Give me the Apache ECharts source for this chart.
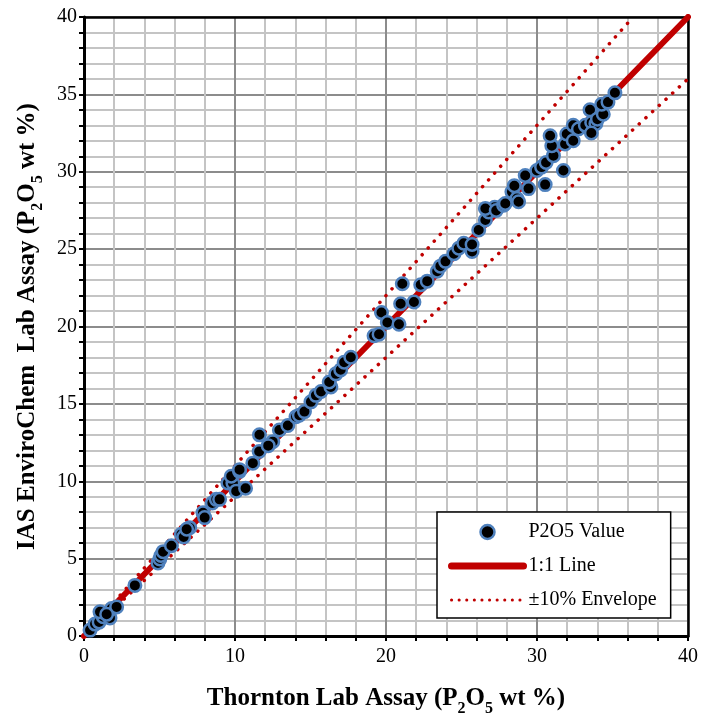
<!DOCTYPE html>
<html><head><meta charset="utf-8">
<script src="https://cdn.jsdelivr.net/npm/echarts@6/dist/echarts.min.js"></script>
<style>html,body{margin:0;padding:0;background:#fff}#c{width:701px;height:722px}</style>
</head><body><div id="c"></div>
<script>
var thorntonX = [0.4,0.73,1.0,1.27,1.06,1.72,1.83,2.16,1.5,3.37,4.9,5.02,5.1,5.24,5.79,6.45,6.6,7.0,6.8,7.88,7.99,8.5,8.76,8.98,9.53,9.86,9.75,10.08,10.3,10.3,10.7,11.18,11.6,11.62,12.5,12.94,12.2,13.5,14.04,14.26,14.6,15.03,15.36,15.7,16.35,16.24,16.68,17.0,17.23,17.67,19.21,19.54,19.7,20.09,20.86,20.97,21.85,21.08,22.3,22.73,23.39,23.6,23.94,24.5,24.82,25.15,25.7,25.7,26.14,26.58,26.8,27.2,26.58,27.3,27.79,27.9,28.34,28.67,28.78,28.5,29.22,29.44,29.99,30.54,30.3,30.6,31.09,30.98,30.87,31.75,31.86,31.97,32.4,32.4,32.74,33.2,33.62,33.51,33.9,33.6,34.0,34.39,34.28,34.7,35.16];
var envirochemY = [0.38,0.77,0.9,1.24,1.56,1.17,1.77,1.88,1.4,3.27,4.72,4.98,5.2,5.45,5.83,6.58,6.4,7.0,6.9,7.97,7.65,8.6,8.83,8.83,9.89,9.89,10.32,9.36,10.64,10.75,9.55,11.17,11.92,13.0,12.56,13.31,12.3,13.6,14.17,14.27,14.5,15.13,15.55,15.8,16.09,16.41,16.94,17.2,17.69,18.01,19.4,19.5,20.9,20.26,20.15,21.47,21.58,22.76,22.7,22.93,23.57,23.9,24.21,24.7,25.06,25.38,24.85,25.3,26.24,26.88,27.4,27.7,27.63,27.5,27.84,27.95,28.7,28.27,28.06,29.1,29.76,28.91,30.08,29.17,30.3,30.6,31.04,31.68,32.33,30.08,31.79,32.44,32.0,33.0,32.76,33.0,33.19,34.0,33.1,32.5,33.4,33.72,34.36,34.5,35.1];
var oneToOne = [[0,0],[40,40]];
var envelopeUpper = [[0,0],[36.364,40]];
var envelopeLower = [[0,0],[40,36]];
var seriesNames = ['P2O5 Value','1:1 Line','\u00b110% Envelope'];

var pts = thorntonX.map(function(x,i){return [x, envirochemY[i]];});
var FF = 'Liberation Serif';
var richName = {
  b:{fontFamily:FF,fontSize:25,fontWeight:'bold',color:'#000',lineHeight:28,verticalAlign:'bottom'},
  s:{fontFamily:FF,fontSize:16,fontWeight:'bold',color:'#000',lineHeight:18,verticalAlign:'bottom',padding:[0,0,-6,0]}
};
var hidden = {color:'rgba(0,0,0,0)',borderColor:'rgba(0,0,0,0)',borderWidth:0};
var chart = echarts.init(document.getElementById('c'));
chart.setOption({
  animation:false,
  backgroundColor:'#fff',
  grid:{left:84,right:11,top:17,bottom:81},
  legend:{
    data:[
      {name:seriesNames[0],icon:'circle',itemStyle:{color:'#000',borderColor:'#4f81bd',borderWidth:2.5}},
      {name:seriesNames[1],itemStyle:hidden,lineStyle:{color:'#c00000',width:7,cap:'round'}},
      {name:seriesNames[2],itemStyle:hidden,lineStyle:{color:'#c00000',width:3,type:[0.1,7.5],cap:'round'}}
    ],
    orient:'vertical', left:437, top:512,
    backgroundColor:'#fff', borderColor:'#000', borderWidth:1.5,
    padding:[10,14,8,11], itemWidth:72, itemHeight:14, itemGap:14,
    textStyle:{fontFamily:FF,fontSize:20,color:'#000'}
  },
  xAxis:[{
    type:'value', min:0, max:40, interval:10,
    name:'{b|Thornton Lab Assay (P}{s|2}{b|O}{s|5}{b| wt %)}',
    nameLocation:'middle', nameGap:47,
    nameTextStyle:{fontWeight:'bold',rich:richName},
    axisLine:{onZero:false,lineStyle:{color:'#000',width:3}},
    axisTick:{show:true,length:5,lineStyle:{color:'#000',width:2}},
    minorTick:{show:true,splitNumber:5,length:5,lineStyle:{color:'#000',width:2}},
    splitLine:{show:true,lineStyle:{color:'#8c8c8c',width:2}},
    minorSplitLine:{show:true,lineStyle:{color:'#c4c4c4',width:2}},
    axisLabel:{fontFamily:FF,fontSize:20,color:'#000',margin:11}
  },{
    type:'value', min:0, max:40, position:'top',
    axisLine:{show:true,onZero:false,lineStyle:{color:'#000',width:2.5}},
    axisTick:{show:false}, axisLabel:{show:false}, splitLine:{show:false}
  }],
  yAxis:[{
    type:'value', min:0, max:40, interval:5,
    name:'{b|IAS EnviroChem  Lab Assay (P}{s|2}{b|O}{s|5}{b| wt %)}',
    nameLocation:'middle', nameGap:44,
    nameTextStyle:{fontWeight:'bold',rich:richName},
    axisLine:{show:true,onZero:false,lineStyle:{color:'#000',width:3}},
    axisTick:{show:true,length:5,lineStyle:{color:'#000',width:2}},
    minorTick:{show:true,splitNumber:5,length:5,lineStyle:{color:'#000',width:2}},
    splitLine:{show:true,lineStyle:{color:'#8c8c8c',width:2}},
    minorSplitLine:{show:true,lineStyle:{color:'#c4c4c4',width:2}},
    axisLabel:{fontFamily:FF,fontSize:20,color:'#000',margin:7}
  },{
    type:'value', min:0, max:40, position:'right',
    axisLine:{show:true,onZero:false,lineStyle:{color:'#000',width:2.5}},
    axisTick:{show:false}, axisLabel:{show:false}, splitLine:{show:false}
  }],
  series:[
    {name:seriesNames[1],type:'line',data:oneToOne,symbol:'none',z:2,
     lineStyle:{color:'#c00000',width:6,cap:'round'},itemStyle:{color:'#c00000'}},
    {name:seriesNames[2],type:'line',data:envelopeUpper,symbol:'none',z:2,
     lineStyle:{color:'#c00000',width:3.5,type:[0.1,9],cap:'round'},itemStyle:{color:'#c00000'}},
    {name:seriesNames[2],type:'line',data:envelopeLower,symbol:'none',z:2,
     lineStyle:{color:'#c00000',width:3.5,type:[0.1,9],cap:'round'},itemStyle:{color:'#c00000'}},
    {name:seriesNames[0],type:'scatter',data:pts,symbol:'circle',symbolSize:12.5,z:3,
     itemStyle:{color:'#000',borderColor:'#4f81bd',borderWidth:2.5,opacity:1}}
  ]
});
</script></body></html>
